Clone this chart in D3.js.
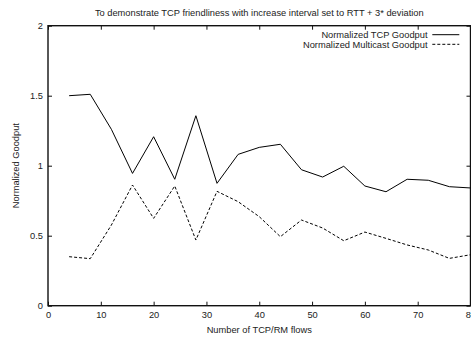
<!DOCTYPE html>
<html lang="en">
  <head>
    <meta charset="utf-8">
    <title>TCP friendliness</title>
    <script src="https://d3js.org/d3.v7.js"></script>
    <style>
      body { margin: 0; background: #fff; }
      svg { display: block; }
    </style>
  </head>

  <body>
    <svg></svg>

  <script>

// Data

  var flows = [4, 8, 12, 16, 20, 24, 28, 32, 36, 40, 44, 48, 52, 56, 60, 64, 68, 72, 76, 80];
  var tcpGoodput = [1.50, 1.51, 1.26, 0.945, 1.207, 0.903, 1.357, 0.874, 1.081, 1.131, 1.153, 0.971, 0.919, 0.996, 0.855, 0.814, 0.903, 0.896, 0.85, 0.841];
  var mcastGoodput = [0.35, 0.336, 0.576, 0.862, 0.624, 0.855, 0.469, 0.817, 0.743, 0.636, 0.493, 0.612, 0.555, 0.464, 0.526, 0.481, 0.434, 0.398, 0.338, 0.364];
  var seriesNames = ["Normalized TCP Goodput", "Normalized Multicast Goodput"];
  var xTicks = [0, 10, 20, 30, 40, 50, 60, 70, 80];
  var yTicks = [0, 0.5, 1, 1.5, 2];

  var w = 471;
  var h = 341;
  var margin = {top: 25.7, right: 0.5, bottom: 35.3, left: 48};
  var innerWidth = w - margin.left - margin.right;
  var innerHeight = h - margin.top - margin.bottom;

  var svg = d3.select("svg")
      .attr("width", w)
      .attr("height", h)
      .attr("font-family", "Liberation Sans, Arial, sans-serif")
      .attr("font-size", 9.3)
      .attr("fill", "#222");

  var xScale = d3.scaleLinear()
      .domain([0, 80])
      .range([0, innerWidth]);

  var yScale = d3.scaleLinear()
      .domain([0, 2])
      .range([innerHeight, 0]);

  var g = svg.append("g")
      .attr("transform", `translate(${margin.left}, ${margin.top})`);

// axes with inward ticks, mirrored on top and right

  var xAxis = d3.axisBottom(xScale).tickValues(xTicks).tickSizeInner(-4).tickSizeOuter(0).tickPadding(6);
  var yAxis = d3.axisLeft(yScale).tickValues(yTicks).tickSizeInner(-4).tickSizeOuter(0).tickPadding(5)
      .tickFormat(d3.format("~g"));

  g.append("g")
      .attr("class", "xAxis")
      .attr("transform", `translate(0, ${innerHeight})`)
      .call(xAxis);

  g.append("g")
      .attr("class", "yAxis")
      .call(yAxis);

  var mirror = g.append("g").attr("class", "mirror");

  mirror.append("g")
      .call(d3.axisTop(xScale).tickValues(xTicks).tickSizeInner(-4).tickSizeOuter(0));

  mirror.append("g")
      .attr("transform", `translate(${innerWidth}, 0)`)
      .call(d3.axisRight(yScale).tickValues(yTicks).tickSizeInner(-4).tickSizeOuter(0));

  // mirrored axes carry only ticks, no labels
  mirror.selectAll("text").remove();

  // let the axis groups inherit the svg font
  g.selectAll("g").attr("font-size", null).attr("font-family", null);
  g.selectAll(".domain").remove();
  g.selectAll(".tick line").attr("stroke", "#111");
  g.selectAll(".tick text").attr("fill", "#222");

  g.append("rect")
      .attr("x", 0)
      .attr("y", 0)
      .attr("width", innerWidth)
      .attr("height", innerHeight)
      .attr("fill", "none")
      .attr("stroke", "#111")
      .attr("stroke-width", 1.4);

// lines

  var line = d3.line()
      .x(d => xScale(d[0]))
      .y(d => yScale(d[1]));

  g.append("path")
      .datum(flows.map((f, i) => [f, tcpGoodput[i]]))
      .attr("d", line)
      .attr("fill", "none")
      .attr("stroke", "#000")
      .attr("stroke-width", 1);

  g.append("path")
      .datum(flows.map((f, i) => [f, mcastGoodput[i]]))
      .attr("d", line)
      .attr("fill", "none")
      .attr("stroke", "#000")
      .attr("stroke-width", 1)
      .attr("stroke-dasharray", "3,2");

// legend

  var legend = svg.append("g")
      .selectAll("g")
      .data(seriesNames)
      .enter().append("g")
      .attr("transform", (d, i) => `translate(0, ${34.7 + i * 9.6})`);

  legend.append("text")
      .attr("x", 427.5)
      .attr("dy", "0.35em")
      .attr("text-anchor", "end")
      .text(d => d);

  legend.append("line")
      .attr("x1", 432.3)
      .attr("x2", 459.3)
      .attr("stroke", "#000")
      .attr("stroke-width", 1)
      .attr("stroke-dasharray", (d, i) => i ? "3,2" : null);

// titles

  svg.append("text")
      .attr("x", margin.left + innerWidth / 2)
      .attr("y", 12.5)
      .attr("dy", "0.35em")
      .attr("text-anchor", "middle")
      .text("To demonstrate TCP friendliness with increase interval set to RTT + 3* deviation");

  svg.append("text")
      .attr("x", margin.left + innerWidth / 2)
      .attr("y", 330)
      .attr("dy", "0.35em")
      .attr("text-anchor", "middle")
      .text("Number of TCP/RM flows");

  svg.append("text")
      .attr("transform", `translate(15.7, ${margin.top + innerHeight / 2}) rotate(-90)`)
      .attr("dy", "0.35em")
      .attr("text-anchor", "middle")
      .text("Normalized Goodput");

    </script>

  </body>

</html>
